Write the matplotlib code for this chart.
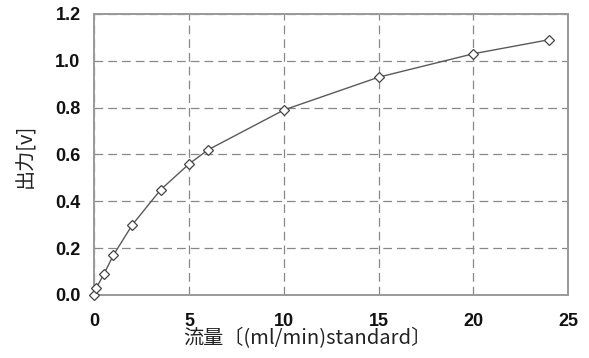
import matplotlib
matplotlib.use("Agg")
import matplotlib.pyplot as plt

# Flow rate (ml/min standard) and sensor output (V)
flow = [0, 0.1, 0.5, 1, 2, 3.5, 5, 6, 10, 15, 20, 24]
output = [0.00, 0.03, 0.09, 0.17, 0.30, 0.45, 0.56, 0.62, 0.79, 0.93, 1.03, 1.09]

x_ticks = [0, 5, 10, 15, 20, 25]
y_ticks = [0.0, 0.2, 0.4, 0.6, 0.8, 1.0, 1.2]
y_tick_labels = ["0.0", "0.2", "0.4", "0.6", "0.8", "1.0", "1.2"]

cjk = ["Noto Sans CJK JP", "DejaVu Sans"]

fig = plt.figure(figsize=(5.89, 3.58), dpi=100)
ax = fig.add_axes([0.1604, 0.176, 0.8039, 0.785])

ax.plot(flow, output, color="#5a5a5a", linewidth=1.0, marker="D",
        markersize=5, markerfacecolor="white", markeredgecolor="#444444",
        markeredgewidth=0.9, zorder=3, clip_on=False)

ax.set_xlim(0, 25)
ax.set_ylim(0, 1.2)
ax.set_xticks(x_ticks)
ax.set_yticks(y_ticks)
ax.set_yticklabels(y_tick_labels)

ax.grid(True, color="#888888", linestyle=(0, (7, 4)), linewidth=0.9)
ax.set_axisbelow(True)

for side in ["left", "right", "top", "bottom"]:
    ax.spines[side].set_color("#999999")
    ax.spines[side].set_linewidth(1.4)

ax.tick_params(axis="both", length=0, colors="#111111")
ax.tick_params(axis="x", pad=13)
ax.tick_params(axis="y", pad=10)
for lbl in ax.get_xticklabels() + ax.get_yticklabels():
    lbl.set_fontfamily("Liberation Sans")
    lbl.set_fontweight("bold")
    lbl.set_fontsize(13)

fig.text(307 / 589, 1 - 339 / 358, "流量〔(ml/min)standard〕", family=cjk,
         fontsize=14.5, ha="center", va="center", color="#222222")
fig.text(26 / 589, 1 - 156 / 358, "出力[v]", family=cjk, fontsize=14.5,
         rotation=90, ha="center", va="center", color="#222222")

fig.savefig("out.png", dpi=100)
